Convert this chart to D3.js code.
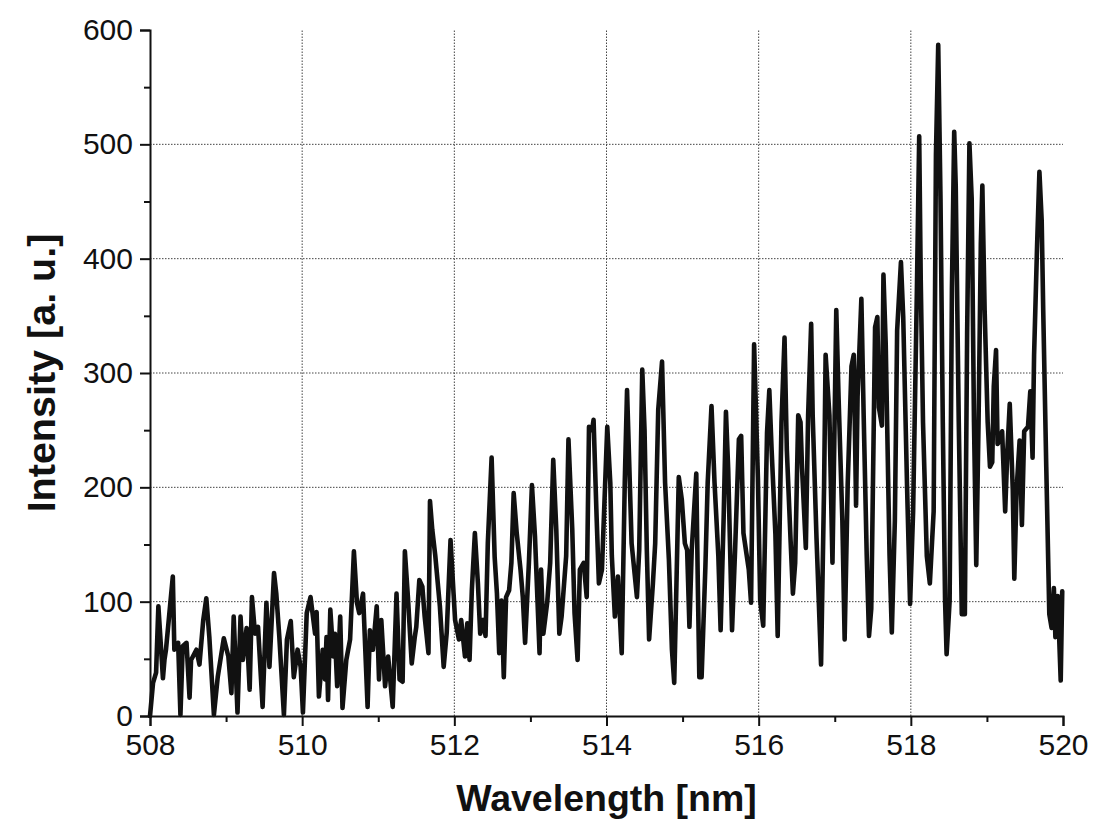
<!DOCTYPE html>
<html>
<head>
<meta charset="utf-8">
<script src="https://cdn.jsdelivr.net/npm/d3@7"></script>
<style>
  body { margin: 0; background: #fff; }
  text { font-family: "Liberation Sans", Arial, sans-serif; }
</style>
</head>
<body>
<div id="chart"></div>
<script>
'use strict';

let width = 1095;
let height = 833;
let margin = { top: 30, bottom: 117, left: 150, right: 32 };

// wavelength [nm] (local peaks and dips)
const wavelength = [
  508.00, 508.04, 508.08, 508.11, 508.17, 508.19, 508.21, 508.30, 508.32, 508.37,
  508.40, 508.43, 508.48, 508.52, 508.54, 508.61, 508.65, 508.70, 508.74, 508.78,
  508.84, 508.89, 508.97, 509.03, 509.07, 509.10, 509.15, 509.19, 509.22, 509.27,
  509.31, 509.34, 509.38, 509.42, 509.48, 509.53, 509.57, 509.63, 509.66, 509.70,
  509.76, 509.80, 509.85, 509.89, 509.94, 509.98,
  510.01, 510.06, 510.11, 510.17, 510.19, 510.22, 510.27, 510.30, 510.32, 510.34,
  510.37, 510.41, 510.43, 510.46, 510.50, 510.53, 510.58, 510.63, 510.68, 510.72,
  510.75, 510.80, 510.86, 510.89, 510.93, 510.98, 511.01, 511.04, 511.09, 511.13,
  511.19, 511.24, 511.28, 511.32, 511.35, 511.39, 511.44, 511.48, 511.50, 511.54,
  511.58, 511.61, 511.66, 511.68, 511.71, 511.75, 511.81, 511.86, 511.90, 511.95,
  511.99,
  512.01, 512.06, 512.09, 512.14, 512.17, 512.20, 512.23, 512.27, 512.31, 512.34,
  512.38, 512.41, 512.44, 512.49, 512.53, 512.56, 512.59, 512.62, 512.65, 512.68,
  512.72, 512.75, 512.78, 512.82, 512.87, 512.90, 512.93, 512.98, 513.02, 513.06,
  513.12, 513.14, 513.17, 513.22, 513.26, 513.30, 513.34, 513.38, 513.41, 513.47,
  513.50, 513.55, 513.58, 513.62, 513.65, 513.70, 513.74, 513.77, 513.81, 513.83,
  513.87, 513.90, 513.94,
  514.01, 514.05, 514.07, 514.11, 514.15, 514.20, 514.24, 514.27, 514.30, 514.33,
  514.40, 514.43, 514.47, 514.50, 514.53, 514.56, 514.61, 514.64, 514.68, 514.73,
  514.77, 514.82, 514.86, 514.89, 514.91, 514.95, 514.99, 515.03, 515.06, 515.09,
  515.12, 515.18, 515.20, 515.22, 515.25, 515.30, 515.33, 515.38, 515.42, 515.47,
  515.50, 515.54, 515.57, 515.60, 515.65, 515.69, 515.74, 515.77, 515.80, 515.87,
  515.90, 515.94,
  515.99, 516.02, 516.06, 516.11, 516.14, 516.17, 516.22, 516.25, 516.30, 516.34,
  516.37, 516.42, 516.45, 516.48, 516.52, 516.55, 516.57, 516.62, 516.65, 516.69,
  516.71, 516.76, 516.82, 516.86, 516.88, 516.93, 516.97, 517.02, 517.05, 517.10,
  517.13, 517.17, 517.22, 517.25, 517.28, 517.30, 517.35, 517.38, 517.42, 517.45,
  517.48, 517.53, 517.56, 517.58, 517.62, 517.64, 517.67, 517.72, 517.75, 517.79,
  517.82, 517.87, 517.90, 517.95, 517.99,
  518.03, 518.08, 518.11, 518.13, 518.16, 518.21, 518.25, 518.30, 518.33, 518.36,
  518.39, 518.42, 518.45, 518.47, 518.51, 518.54, 518.57, 518.59, 518.63, 518.67,
  518.71, 518.74, 518.77, 518.80, 518.83, 518.86, 518.89, 518.92, 518.94, 518.97,
  519.01, 519.04, 519.07, 519.09, 519.12, 519.14, 519.17, 519.20, 519.24, 519.27,
  519.30, 519.34, 519.36, 519.39, 519.43, 519.46, 519.49, 519.54, 519.57, 519.60,
  519.62, 519.66, 519.69, 519.72, 519.74, 519.78, 519.82, 519.85, 519.88, 519.90,
  519.93, 519.97, 519.99
];

// intensity [a. u.]
const intensity = [
  0, 29, 38, 96, 33, 49, 58, 122, 58, 64,
  1, 61, 64, 16, 49, 58, 45, 84, 103, 69,
  1, 34, 68, 52, 20, 87, 3, 87, 49, 77,
  23, 104, 72, 78, 8, 99, 43, 125, 107, 69,
  1, 67, 83, 34, 58, 43,
  3, 90, 104, 72, 91, 17, 58, 32, 69, 14,
  93, 52, 72, 26, 87, 7, 49, 67, 144, 99,
  90, 107, 8, 75, 58, 96, 32, 84, 26, 52,
  8, 107, 32, 30, 144, 104, 46, 69, 78, 119,
  113, 87, 55, 188, 163, 140, 96, 43, 73, 154,
  107,
  84, 67, 84, 52, 81, 49, 110, 160, 116, 72,
  84, 70, 151, 226, 139, 107, 55, 101, 34, 104,
  110, 134, 195, 160, 128, 104, 64, 134, 202, 157,
  55, 128, 72, 99, 134, 224, 163, 72, 87, 140,
  242, 163, 90, 49, 128, 134, 104, 253, 250, 259,
  174, 116, 128,
  253, 204, 140, 87, 122, 55, 204, 285, 218, 151,
  104, 145, 303, 250, 145, 67, 116, 151, 268, 310,
  204, 137, 58, 29, 87, 209, 189, 151, 145, 78,
  145, 212, 116, 34, 34, 131, 204, 271, 204, 140,
  75, 174, 266, 215, 75, 145, 242, 245, 160, 128,
  99, 325,
  208, 101, 79, 248, 285, 233, 159, 70, 257, 331,
  233, 153, 107, 134, 263, 257, 217, 147, 263, 343,
  263, 156, 45, 202, 316, 263, 134, 355, 279, 171,
  67, 202, 306, 316, 184, 279, 365, 263, 141, 70,
  94, 340, 349, 270, 254, 386, 325, 141, 73, 171,
  337, 397, 349, 202, 98,
  179, 374, 507, 382, 257, 140, 116, 179, 491, 587,
  452, 257, 101, 54, 101, 374, 511, 464, 257, 89,
  89, 335, 501, 452, 257, 132, 257, 413, 464, 355,
  257, 218, 222, 288, 320, 238, 241, 249, 179, 234,
  273, 198, 120, 198, 241, 167, 249, 253, 284, 226,
  316, 413, 476, 433, 355, 218, 89, 77, 112, 69,
  105, 31, 109
];

const xTicks = [508, 510, 512, 514, 516, 518, 520];
const xMinorTicks = [509, 511, 513, 515, 517, 519];
const yTicks = [0, 100, 200, 300, 400, 500, 600];
const yMinorTicks = [50, 150, 250, 350, 450, 550];

const xLabel = "Wavelength [nm]";
const yLabel = "Intensity [a. u.]";

let svg;

function init() {
    const data = wavelength.map((w, i) => ({ w: w, v: intensity[i] }));

    const x = d3.scaleLinear()
        .domain([508, 520])
        .range([margin.left, width - margin.right]);
    const y = d3.scaleLinear()
        .domain([0, 600])
        .range([height - margin.bottom, margin.top]);

    svg = d3.select("#chart")
        .append("svg")
        .attr("width", width)
        .attr("height", height);

    // dotted grid
    const grid = svg.append("g").attr("class", "grid");
    grid.selectAll(".vgrid")
        .data(xTicks.slice(1, -1))
        .join("line")
        .attr("x1", d => x(d)).attr("x2", d => x(d))
        .attr("y1", y(0)).attr("y2", y(600))
        .attr("stroke", "#444")
        .attr("stroke-width", 1)
        .attr("stroke-dasharray", "1.5,1.5");
    grid.selectAll(".hgrid")
        .data(yTicks.slice(1, -1))
        .join("line")
        .attr("x1", x(508)).attr("x2", x(520))
        .attr("y1", d => y(d)).attr("y2", d => y(d))
        .attr("stroke", "#444")
        .attr("stroke-width", 1)
        .attr("stroke-dasharray", "1.5,1.5");

    // spectrum
    const line = d3.line()
        .x(d => x(d.w))
        .y(d => y(d.v));

    svg.append("path")
        .datum(data)
        .attr("d", line)
        .attr("fill", "none")
        .attr("stroke", "#111")
        .attr("stroke-width", 4.6)
        .attr("stroke-linejoin", "round")
        .attr("stroke-linecap", "round");

    // axes
    svg.append("g")
        .attr("transform", `translate(0,${y(0)})`)
        .call(d3.axisBottom(x).tickValues(xTicks).tickSize(10).tickPadding(8).tickFormat(d3.format("d")));
    svg.append("g")
        .attr("transform", `translate(0,${y(0)})`)
        .call(d3.axisBottom(x).tickValues(xMinorTicks).tickSize(6).tickFormat(""))
        .select(".domain").remove();

    svg.append("g")
        .attr("transform", `translate(${x(508)},0)`)
        .call(d3.axisLeft(y).tickValues(yTicks).tickSize(10).tickPadding(7).tickFormat(d3.format("d")));
    svg.append("g")
        .attr("transform", `translate(${x(508)},0)`)
        .call(d3.axisLeft(y).tickValues(yMinorTicks).tickSize(6).tickFormat(""))
        .select(".domain").remove();

    svg.selectAll(".domain, .tick line")
        .attr("stroke", "#111")
        .attr("stroke-width", 2);

    svg.selectAll(".tick text")
        .attr("fill", "#111")
        .style("font-family", "'Liberation Sans', Arial, sans-serif")
        .style("font-size", "30px");

    // axis titles
    svg.append("text")
        .attr("x", (x(508) + x(520)) / 2)
        .attr("y", 811)
        .attr("text-anchor", "middle")
        .attr("font-weight", "bold")
        .attr("font-size", 37.5)
        .attr("fill", "#111")
        .text(xLabel);

    svg.append("text")
        .attr("transform", `translate(55,${(y(0) + y(600)) / 2}) rotate(-90)`)
        .attr("text-anchor", "middle")
        .attr("font-weight", "bold")
        .attr("font-size", 39.5)
        .attr("fill", "#111")
        .text(yLabel);
}

init();
</script>
</body>
</html>
